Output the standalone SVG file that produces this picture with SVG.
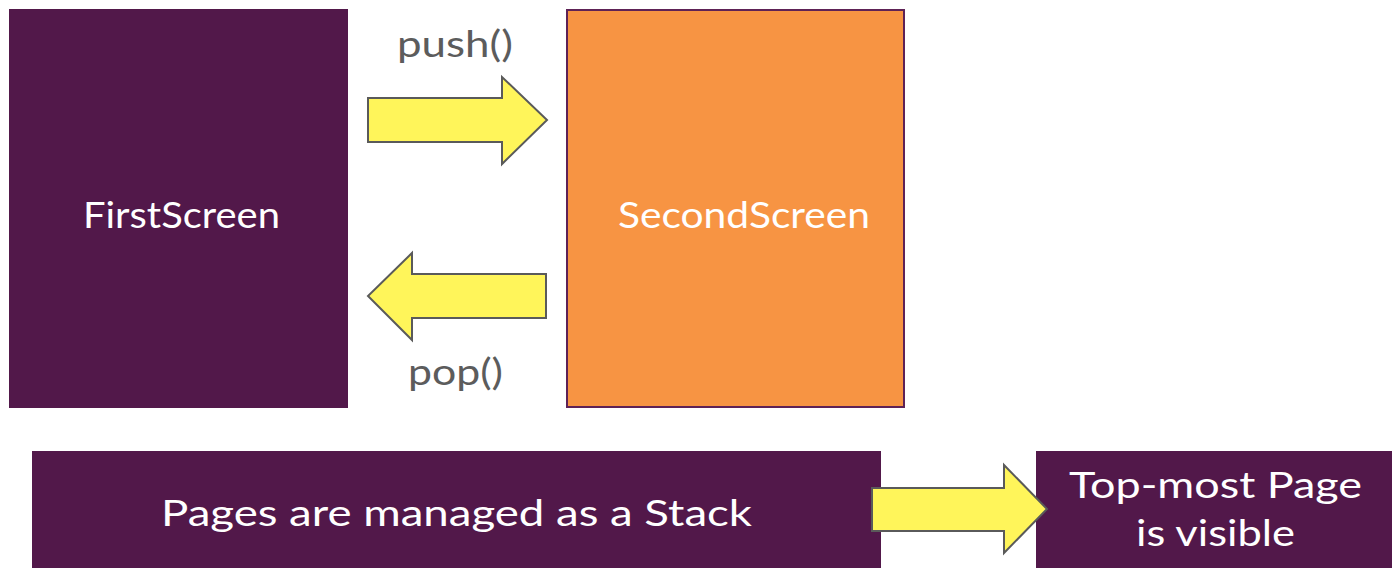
<svg xmlns="http://www.w3.org/2000/svg" width="1392" height="570" viewBox="0 0 1392 570">
<style>
.purple{fill:#52184A;}
.orange{fill:#F79443;stroke:#5E2256;stroke-width:2;}
.arrow{fill:#FFF55A;stroke:#5A5A5A;stroke-width:2;stroke-linejoin:miter;}
.wt{fill:#FFFFFF;font-family:Lato,"Open Sans",sans-serif;font-size:36px;text-anchor:middle;}
.gt{fill:#5C5C5C;font-family:Lato,"Open Sans",sans-serif;font-size:36px;text-anchor:middle;}
</style>
<rect width="1392" height="570" fill="#FFFFFF"/>
<g id="first-screen">
<rect class="purple" x="9" y="9" width="339" height="399"/>
<text class="wt" x="181.5" y="228" textLength="197" lengthAdjust="spacingAndGlyphs">FirstScreen</text>
</g>
<g id="second-screen">
<rect class="orange" x="567" y="10" width="337" height="397"/>
<text class="wt" x="744" y="228" textLength="252" lengthAdjust="spacingAndGlyphs">SecondScreen</text>
</g>
<g id="stack-box">
<rect class="purple" x="32" y="451" width="849" height="117"/>
<text class="wt" x="456.5" y="526" textLength="591" lengthAdjust="spacingAndGlyphs">Pages are managed as a Stack</text>
</g>
<g id="visible-box">
<rect class="purple" x="1036" y="451" width="360" height="117"/>
<text class="wt" x="1215.5" y="498" textLength="293" lengthAdjust="spacingAndGlyphs">Top-most Page</text>
<text class="wt" x="1215.5" y="546" textLength="159" lengthAdjust="spacingAndGlyphs">is visible</text>
</g>
<g id="connectors">
<g id="push">
<polygon class="arrow" points="368,98 502,98 502,77 547,120 502,164 502,142 368,142"/>
<text class="gt" x="455" y="57" textLength="116" lengthAdjust="spacingAndGlyphs">push()</text>
</g>
<g id="pop">
<polygon class="arrow" points="546,274 412,274 412,253 368,296 412,340 412,318 546,318"/>
<text class="gt" x="455.5" y="385" textLength="95" lengthAdjust="spacingAndGlyphs">pop()</text>
</g>
<polygon id="to-visible" class="arrow" points="872,488 1004,488 1004,465 1047,509 1004,553 1004,531 872,531"/>
</g>
</svg>
